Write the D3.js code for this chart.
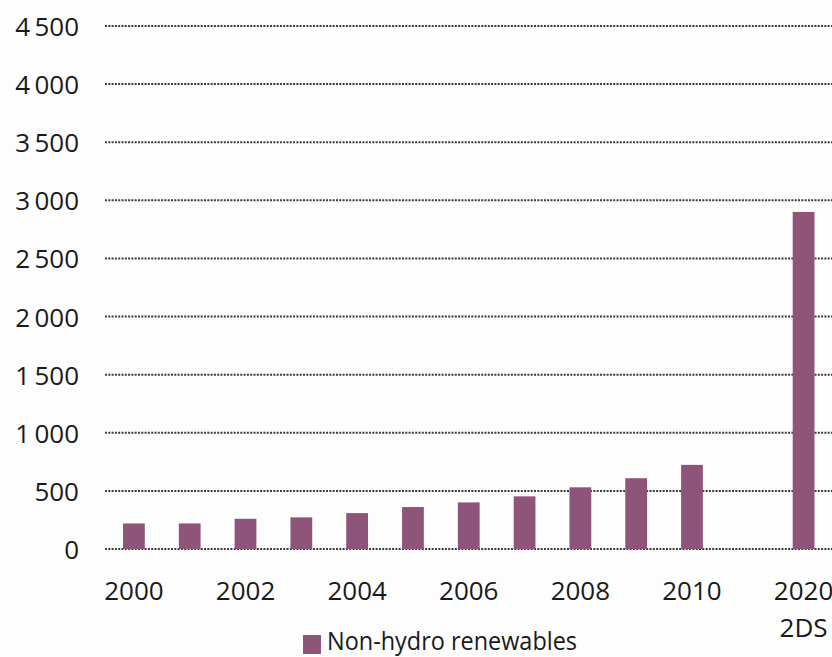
<!DOCTYPE html>
<html>
<head>
<meta charset="utf-8">
<script src="https://cdn.jsdelivr.net/npm/d3@7"></script>
<style>
  html, body { margin: 0; padding: 0; background: #fdfdfd; }
  svg { display: block; }
  text { font-family: "Open Sans", "Noto Sans", sans-serif; fill: #1a1a1a; }
</style>
</head>
<body>
<svg id="chart" width="832" height="657"></svg>
<script>
// Data
const slots = ["2000","2001","2002","2003","2004","2005","2006","2007","2008","2009","2010","gap","2020"];
const years = ["2000","2001","2002","2003","2004","2005","2006","2007","2008","2009","2010","2020"];
const values = [220, 220, 260, 272, 309, 361, 401, 453, 531, 609, 724, 2900];
const labelYears = ["2000","2002","2004","2006","2008","2010","2020"];
const labelSub = { "2020": "2DS" };
const yTicks = [0, 500, 1000, 1500, 2000, 2500, 3000, 3500, 4000, 4500];
const seriesName = "Non-hydro renewables";
const barColor = "#8f5479";

const svg = d3.select("#chart");
const W = 832, H = 657;
svg.append("rect").attr("width", W).attr("height", H).attr("fill", "#fdfdfd");

const y = d3.scaleLinear().domain([0, 4500]).range([549, 26]);
const x = d3.scaleBand().domain(slots).range([106, 831.5]).paddingInner(0.61).paddingOuter(0.305);

const tickFmt = v => {
  const s = String(v);
  return s.length > 3 ? s.slice(0, s.length - 3) + "\u2009" + s.slice(-3) : s;
};

// gridlines
svg.append("g").selectAll("line").data(yTicks).join("line")
  .attr("x1", 105).attr("x2", 832)
  .attr("y1", d => y(d)).attr("y2", d => y(d))
  .attr("stroke", "#3a3a3a").attr("stroke-width", 2)
  .attr("stroke-dasharray", "2,1.3");

// y labels
svg.append("g").selectAll("text").data(yTicks).join("text")
  .attr("x", 79).attr("y", d => y(d) + 10)
  .attr("text-anchor", "end")
  .attr("font-size", 26)
  .text(d => tickFmt(d));

// bars
const data = years.map((yr, i) => ({ year: yr, value: values[i] }));
svg.append("g").selectAll("rect").data(data).join("rect")
  .attr("x", d => x(d.year))
  .attr("width", x.bandwidth())
  .attr("y", d => y(d.value))
  .attr("height", d => y(0) - y(d.value))
  .attr("fill", barColor);

// x labels
const xl = svg.append("g").selectAll("g").data(labelYears).join("g")
  .attr("transform", d => `translate(${x(d) + x.bandwidth() / 2},0)`);
xl.append("text").attr("y", 600).attr("text-anchor", "middle").attr("font-size", 26).text(d => d);
xl.filter(d => labelSub[d]).append("text").attr("y", 637).attr("text-anchor", "middle")
  .attr("font-size", 26).text(d => labelSub[d]);

// legend
const lg = svg.append("g");
lg.append("rect").attr("x", 303).attr("y", 635).attr("width", 18).attr("height", 19).attr("fill", barColor);
lg.append("text").attr("x", 327).attr("y", 650).attr("font-size", 25)
  .attr("textLength", 250).attr("lengthAdjust", "spacingAndGlyphs").text(seriesName);
</script>
</body>
</html>
